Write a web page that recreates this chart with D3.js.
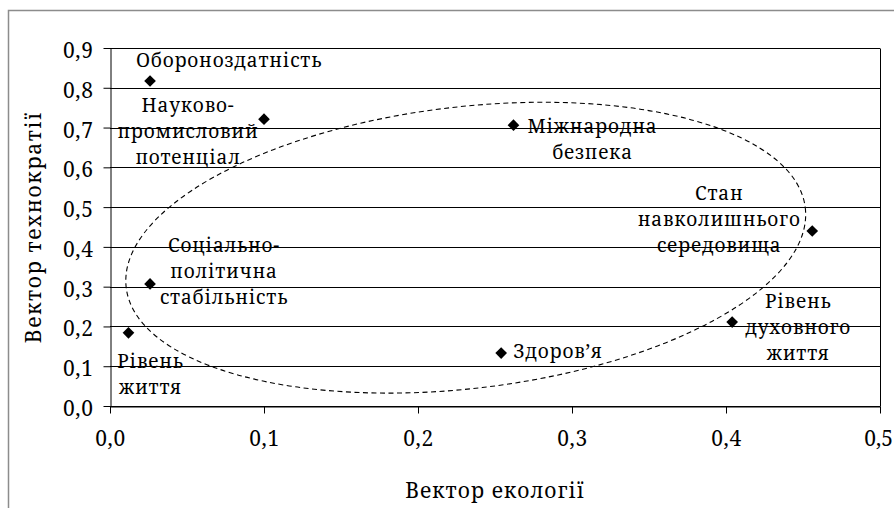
<!DOCTYPE html>
<html>
<head>
<meta charset="utf-8">
<script src="https://cdn.jsdelivr.net/npm/d3@7"></script>
<style>
    body { margin: 0; background: #fff; }
    .serif { font-family: "Noto Serif", "Liberation Serif", "DejaVu Serif", serif; }
</style>
</head>
<body>
<div id="chart-holder"></div>
<script>
// factors and their coordinates (ecology vector, technocracy vector)
var factors = ['Обороноздатність', 'Науково-промисловий потенціал', 'Міжнародна безпека',
    'Стан навколишнього середовища', 'Соціально-політична стабільність', 'Рівень життя',
    'Здоров’я', 'Рівень духовного життя'];
var labelLines = [
    ['Обороноздатність'],
    ['Науково-', 'промисловий', 'потенціал'],
    ['Міжнародна', 'безпека'],
    ['Стан', 'навколишнього', 'середовища'],
    ['Соціально-', 'політична', 'стабільність'],
    ['Рівень', 'життя'],
    ['Здоров’я'],
    ['Рівень', 'духовного', 'життя']
];
var ecology = [0.026, 0.100, 0.262, 0.456, 0.026, 0.012, 0.254, 0.404];
var technocracy = [0.817, 0.721, 0.706, 0.440, 0.307, 0.184, 0.133, 0.211];
var xTicks = [0, 0.1, 0.2, 0.3, 0.4, 0.5];
var yTicks = [0, 0.1, 0.2, 0.3, 0.4, 0.5, 0.6, 0.7, 0.8, 0.9];
var xTitle = 'Вектор екології',
    yTitle = 'Вектор технократії';
// dashed cluster oval, in data units
var clusterCenter = [0.231, 0.398],
    clusterRadii = [0.222, 0.354],
    clusterTilt = -6.7;

// label placement relative to the marker: [anchor, dx, dy of first line]
var labelPlacement = [
    ['middle', 79, -14],
    ['middle', -76, -7],
    ['middle', 79, 8],
    ['middle', -93, -31],
    ['middle', 74, -32],
    ['middle', 22, 35],
    ['start', 12, 5],
    ['middle', 66, -14]
];

var width = 894, height = 508,
    plot = { top: 48, right: 880, bottom: 406, left: 110 },
    lineHeight = 26;

var svg = d3.select('#chart-holder').append('svg')
    .attr('width', width)
    .attr('height', height);

// outer frame (runs past the right and bottom edges)
svg.append('rect')
    .attr('x', 8.5).attr('y', 10.5)
    .attr('width', 920).attr('height', 540)
    .attr('fill', '#fff')
    .attr('stroke', '#8c8c8c')
    .attr('stroke-width', 1.5);

var x = d3.scaleLinear().domain([0, 0.5]).range([plot.left, plot.right]),
    y = d3.scaleLinear().domain([0, 0.9]).range([plot.bottom, plot.top]);

var fmt = d3.formatLocale({ decimal: ',', thousands: ' ', grouping: [3], currency: ['', ''] }).format('.1f');

// horizontal gridlines
svg.append('g').selectAll('line')
    .data(yTicks)
    .join('line')
    .attr('x1', plot.left).attr('x2', plot.right)
    .attr('y1', function (d) { return Math.round(y(d)) + 0.5; })
    .attr('y2', function (d) { return Math.round(y(d)) + 0.5; })
    .attr('stroke', '#000')
    .attr('stroke-width', 1);

// right edge of the plot area
svg.append('line')
    .attr('x1', plot.right + 0.5).attr('x2', plot.right + 0.5)
    .attr('y1', Math.round(y(0.9)) + 0.5).attr('y2', Math.round(y(0)) + 0.5)
    .attr('stroke', '#000');

var xAxis = svg.append('g')
    .attr('transform', 'translate(0,' + (Math.round(y(0)) + 0.5) + ')')
    .call(d3.axisBottom(x).tickValues(xTicks).tickFormat(fmt).tickSize(7).tickPadding(18).tickSizeOuter(0));
var yAxis = svg.append('g')
    .attr('transform', 'translate(' + (Math.round(x(0)) + 0.5) + ',0)')
    .call(d3.axisLeft(y).tickValues(yTicks).tickFormat(fmt).tickSize(7).tickPadding(10).tickSizeOuter(0));

[xAxis, yAxis].forEach(function (a) {
    a.attr('font-family', null).attr('font-size', null);
    a.selectAll('path, line').attr('stroke', '#000');
    a.selectAll('text')
        .attr('class', 'serif')
        .attr('fill', '#000')
        .attr('font-size', 21)
        .attr('letter-spacing', 0.6);
});
yAxis.selectAll('text').attr('dy', '0.45em');
// last x label sits at the window edge, nudge it inside
xAxis.selectAll('text').filter(function (d) { return d === 0.5; })
    .attr('letter-spacing', 0)
    .attr('dx', -2);

// dashed oval around the cluster
svg.append('ellipse')
    .attr('cx', x(clusterCenter[0]))
    .attr('cy', y(clusterCenter[1]))
    .attr('rx', x(clusterRadii[0]) - x(0))
    .attr('ry', y(0) - y(clusterRadii[1]))
    .attr('transform', 'rotate(' + clusterTilt + ',' + x(clusterCenter[0]) + ',' + y(clusterCenter[1]) + ')')
    .attr('fill', 'none')
    .attr('stroke', '#000')
    .attr('stroke-width', 1.1)
    .attr('stroke-dasharray', '5,3.5');

// markers
var diamond = d3.symbol().type(d3.symbolSquare).size(68);
svg.append('g').selectAll('path')
    .data(factors)
    .join('path')
    .attr('d', diamond)
    .attr('transform', function (d, i) {
        return 'translate(' + x(ecology[i]) + ',' + y(technocracy[i]) + ') rotate(45)';
    })
    .attr('fill', '#000');

// point labels
var labels = svg.append('g').selectAll('text')
    .data(factors)
    .join('text')
    .attr('class', 'serif')
    .attr('text-anchor', function (d, i) { return labelPlacement[i][0]; })
    .attr('font-size', 19)
    .attr('letter-spacing', 0.8);

labels.each(function (d, i) {
    var px = x(ecology[i]) + labelPlacement[i][1],
        py = y(technocracy[i]) + labelPlacement[i][2];
    d3.select(this).selectAll('tspan')
        .data(labelLines[i])
        .join('tspan')
        .attr('x', px)
        .attr('y', function (t, j) { return py + j * lineHeight; })
        .text(function (t) { return t; });
});

// axis titles
svg.append('text')
    .attr('class', 'serif')
    .attr('x', (plot.left + plot.right) / 2)
    .attr('y', 498)
    .attr('text-anchor', 'middle')
    .attr('font-size', 21)
    .attr('letter-spacing', 1)
    .text(xTitle);

svg.append('text')
    .attr('class', 'serif')
    .attr('transform', 'translate(41,' + (plot.top + plot.bottom) / 2 + ') rotate(-90)')
    .attr('text-anchor', 'middle')
    .attr('font-size', 21)
    .attr('letter-spacing', 1.6)
    .text(yTitle);
</script>
</body>
</html>
